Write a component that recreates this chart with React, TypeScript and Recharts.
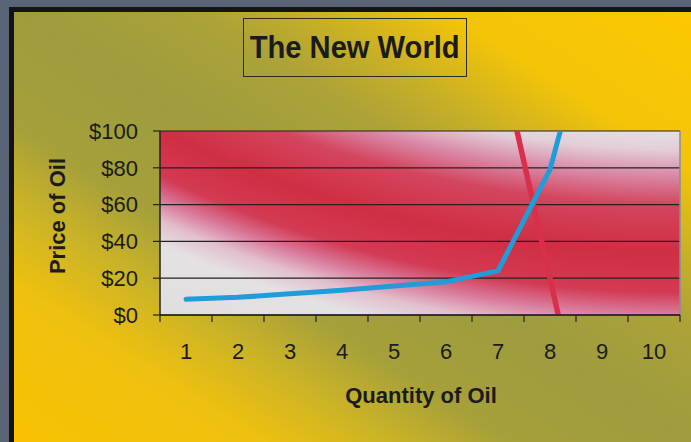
import React from "react";
import {
  LineChart, Line, XAxis, YAxis, CartesianGrid, ReferenceLine, Label,
} from "recharts";

// quantity categories on the x axis
const quantities = [1, 2, 3, 4, 5, 6, 7, 8, 9, 10];
// supply curve (blue), price in $ — last point runs off the top of the plot
const supply = [8.5, 9.6, 11.5, 13.5, 15.8, 18, 24, 79, 185, null];
// demand curve (red), only the steep part crosses the plot
const demand = [null, null, null, null, null, null, 146, 20, -106, null];
const priceTicks = [0, 20, 40, 60, 80, 100];

const data = quantities.map((q, i) => ({ q, supply: supply[i], demand: demand[i] }));

// ticks at category centres (labels) and at category edges (tick marks)
const xTicks = [0.5, ...quantities.flatMap((q) => [q, q + 0.5])];

const FONT = "'Liberation Sans', Arial, Helvetica, sans-serif";
const INK = "#1b1b1b";

function XTick(props: any) {
  const { x, y, payload } = props;
  const v = payload.value as number;
  const axisY = y - 7;
  if (Number.isInteger(v)) {
    return (
      <text x={x} y={axisY + 44} textAnchor="middle" fontSize={22} fontFamily={FONT} fill={INK}>
        {v}
      </text>
    );
  }
  return <line x1={x} y1={axisY} x2={x} y2={axisY + 7} stroke="#222" strokeWidth={1.2} />;
}

function Background() {
  return (
    <svg width={691} height={442} style={{ position: "absolute", left: 0, top: 0 }}>
      <defs>
        <linearGradient id="bgGrad" gradientUnits="userSpaceOnUse" x1={546} y1={-93} x2={145} y2={535}>
          <stop offset="0" stopColor="#fcc800" />
          <stop offset="0.19" stopColor="#f4c408" />
          <stop offset="0.29" stopColor="#c8b026" />
          <stop offset="0.37" stopColor="#aca238" />
          <stop offset="0.5" stopColor="#9e9c3e" />
          <stop offset="0.63" stopColor="#a6a03a" />
          <stop offset="0.72" stopColor="#ccb426" />
          <stop offset="0.81" stopColor="#eec010" />
          <stop offset="1" stopColor="#f9c200" />
        </linearGradient>
        {/* curved red band across the plot area */}
        <radialGradient id="plotGrad" gradientUnits="userSpaceOnUse" cx={684} cy={-945} r={1400}>
          <stop offset="0" stopColor="#e6e3e5" />
          <stop offset="0.764" stopColor="#e6e3e5" />
          <stop offset="0.782" stopColor="#e2cfd8" />
          <stop offset="0.8" stopColor="#da8aa8" />
          <stop offset="0.821" stopColor="#d3465f" />
          <stop offset="0.855" stopColor="#d02e42" />
          <stop offset="0.884" stopColor="#d33a54" />
          <stop offset="0.899" stopColor="#d97a9b" />
          <stop offset="0.913" stopColor="#e2bfcf" />
          <stop offset="0.929" stopColor="#e4e1e3" />
          <stop offset="1" stopColor="#dddddd" />
        </radialGradient>
      </defs>
      <rect x={0} y={0} width={691} height={442} fill="#5a6477" />
      <rect x={9} y={7} width={682} height={435} fill="#141414" />
      <rect x={14} y={12} width={677} height={430} fill="url(#bgGrad)" />
    </svg>
  );
}

export default function App() {
  return (
    <div style={{ position: "absolute", left: 0, top: 0, width: 691, height: 442, overflow: "hidden" }}>
      <Background />
      <div
        style={{
          position: "absolute", left: 243, top: 18, width: 222, height: 57,
          border: "1px solid #2a2a2a", display: "flex", alignItems: "center", justifyContent: "center",
          fontFamily: FONT, fontWeight: "bold", fontSize: 31, color: INK,
        }}
      >
        <span style={{ display: "inline-block", transform: "scaleX(0.94)", whiteSpace: "nowrap" }}>The New World</span>
      </div>
      <div style={{ position: "absolute", left: 0, top: 0 }}>
        <LineChart width={691} height={442} data={data} margin={{ top: 131, right: 11, bottom: 67, left: 0 }}>
          <CartesianGrid vertical={false} fill="url(#plotGrad)" fillOpacity={1} stroke="#222" strokeWidth={1.2} />
          <XAxis
            dataKey="q"
            type="number"
            domain={[0.5, 10.5]}
            ticks={xTicks}
            interval={0}
            allowDataOverflow
            height={60}
            tickSize={7}
            tickMargin={0}
            tickLine={false}
            axisLine={{ stroke: "#222", strokeWidth: 1.5 }}
            tick={<XTick />}
          >
            <Label
              content={() => (
                <text x={421} y={403} textAnchor="middle" fontSize={22} fontWeight="bold" fontFamily={FONT} fill={INK}>
                  Quantity of Oil
                </text>
              )}
            />
          </XAxis>
          <YAxis
            type="number"
            domain={[0, 100]}
            ticks={priceTicks}
            allowDataOverflow
            width={160}
            tickSize={7}
            tickMargin={15}
            tickFormatter={(v: number) => `$${v}`}
            tick={{ fontSize: 22, fontFamily: FONT, fill: INK }}
            tickLine={{ stroke: "#222", strokeWidth: 1.2 }}
            axisLine={{ stroke: "#222", strokeWidth: 1.5 }}
          >
            <Label
              content={() => (
                <text
                  x={57}
                  y={216}
                  transform="rotate(-90 57 216)"
                  textAnchor="middle"
                  dominantBaseline="central"
                  fontSize={22}
                  fontWeight="bold"
                  fontFamily={FONT}
                  fill={INK}
                >
                  Price of Oil
                </text>
              )}
            />
          </YAxis>
          <ReferenceLine x={10.5} stroke="#8a8aa0" strokeWidth={1.5} />
          <Line
            dataKey="demand"
            type="linear"
            stroke="#d8304a"
            strokeWidth={5.5}
            dot={false}
            activeDot={false}
            isAnimationActive={false}
          />
          <Line
            dataKey="supply"
            type="linear"
            stroke="#1e9dd8"
            strokeWidth={5}
            dot={false}
            activeDot={false}
            strokeLinecap="round"
            strokeLinejoin="round"
            isAnimationActive={false}
          />
        </LineChart>
      </div>
    </div>
  );
}
